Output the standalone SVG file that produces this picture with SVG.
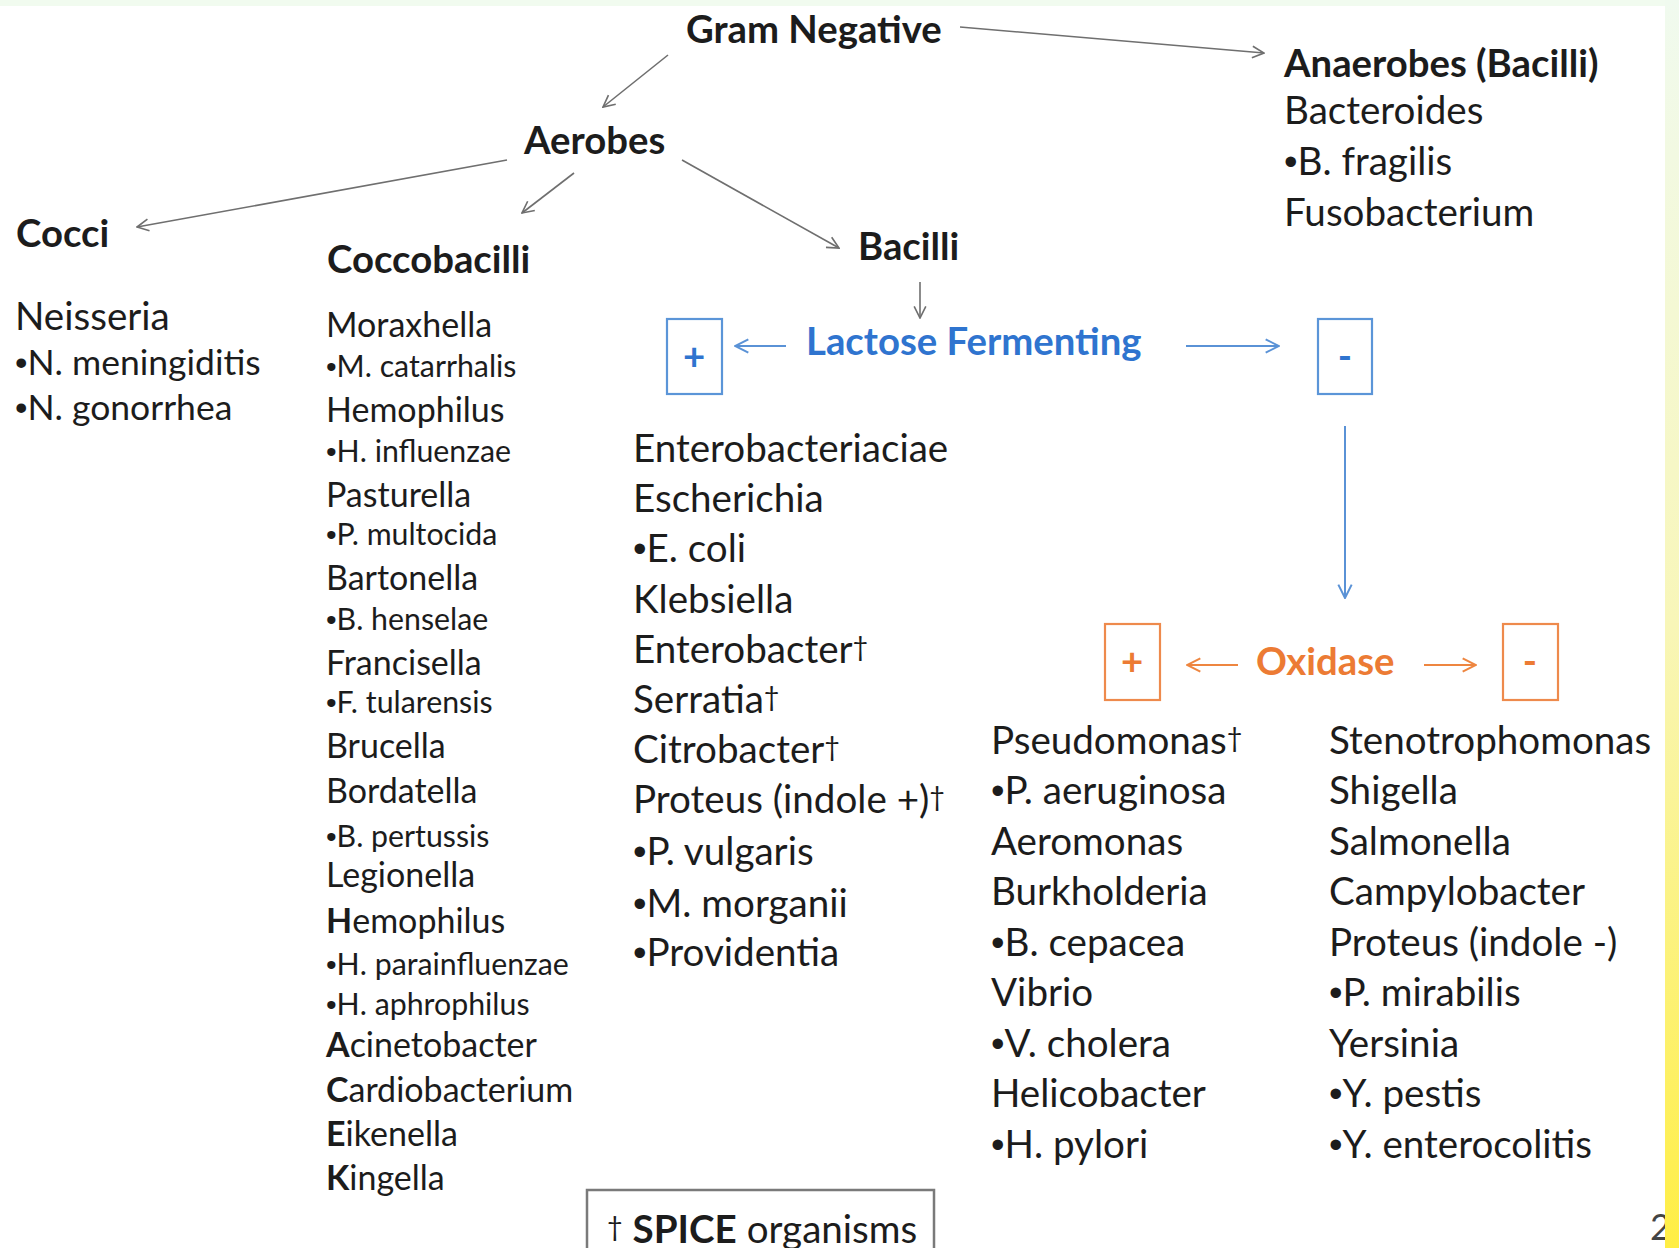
<svg xmlns="http://www.w3.org/2000/svg" width="1679" height="1248" viewBox="0 0 1679 1248">
<defs>
<style>
text{font-family:Lato,"Open Sans","Liberation Sans",sans-serif;fill:#1c1c1c}
.h{font-weight:bold;font-size:38.3px}
.b{font-size:38.6px}
.g{font-size:34px}
.s{font-size:30.3px}
.dg{font-size:27px;baseline-shift:7px}
.bu{font-family:"Liberation Sans",sans-serif}
.blue{fill:#2f74cf;font-weight:bold;font-size:38.3px}
.orange{fill:#ec7b34;font-weight:bold;font-size:38.3px}
.ka{stroke:#6f6f6f;stroke-width:1.6;fill:none}
.ba{stroke:#5a92d6;stroke-width:2;fill:none}
.oa{stroke:#ee8640;stroke-width:2;fill:none}
.bbox{stroke:#5b95d8;stroke-width:2.2;fill:none}
.obox{stroke:#ee8a4c;stroke-width:2.2;fill:none}
</style>
<marker id="mk" viewBox="0 0 12 12" refX="11" refY="6" markerWidth="14" markerHeight="14" markerUnits="userSpaceOnUse" orient="auto"><path d="M1,1 L11,6 L1,11" fill="none" stroke="#6f6f6f" stroke-width="1.4"/></marker>
<marker id="mb" viewBox="0 0 12 12" refX="11" refY="6" markerWidth="16" markerHeight="16" markerUnits="userSpaceOnUse" orient="auto"><path d="M1,1 L11,6 L1,11" fill="none" stroke="#5a92d6" stroke-width="1.5"/></marker>
<marker id="mo" viewBox="0 0 12 12" refX="11" refY="6" markerWidth="16" markerHeight="16" markerUnits="userSpaceOnUse" orient="auto"><path d="M1,1 L11,6 L1,11" fill="none" stroke="#ee8640" stroke-width="1.5"/></marker>
<linearGradient id="strip" x1="0" y1="0" x2="0" y2="1">
<stop offset="0" stop-color="#f0faef"/>
<stop offset="0.5" stop-color="#f8f6b8"/>
<stop offset="1" stop-color="#ffee44"/>
</linearGradient>
</defs>
<rect x="0" y="0" width="1679" height="1248" fill="#ffffff"/>
<rect x="0" y="0" width="1679" height="6" fill="#f1fbef"/>

<g id="connectors">
<line class="ka" x1="960" y1="27" x2="1264" y2="53" marker-end="url(#mk)"/>
<line class="ka" x1="668" y1="55" x2="603" y2="107" marker-end="url(#mk)"/>
<line class="ka" x1="507" y1="160" x2="137" y2="227" marker-end="url(#mk)"/>
<line class="ka" x1="574" y1="173" x2="522" y2="213" marker-end="url(#mk)"/>
<line class="ka" x1="682" y1="160" x2="839" y2="248" marker-end="url(#mk)"/>
<line class="ka" x1="920" y1="282" x2="920" y2="318" marker-end="url(#mk)"/>
<line class="ba" x1="786" y1="346" x2="735" y2="346" marker-end="url(#mb)"/>
<line class="ba" x1="1186" y1="346" x2="1279" y2="346" marker-end="url(#mb)"/>
<line class="ba" x1="1345" y1="426" x2="1345" y2="598" marker-end="url(#mb)"/>
<line class="oa" x1="1238" y1="665" x2="1187" y2="665" marker-end="url(#mo)"/>
<line class="oa" x1="1424" y1="665" x2="1476" y2="665" marker-end="url(#mo)"/>
</g>

<g id="gram-negative"><text class="h" x="686" y="43">Gram Negative</text></g>
<g id="aerobes"><text class="h" x="524" y="154">Aerobes</text></g>

<g id="anaerobes">
<text class="h" x="1284" y="77">Anaerobes (Bacilli)</text>
<text class="b" x="1284" y="124">Bacteroides</text>
<text class="b" x="1284" y="175"><tspan class="bu">•</tspan>B. fragilis</text>
<text class="b" x="1284" y="226">Fusobacterium</text>
</g>

<g id="cocci">
<text class="h" x="16" y="247">Cocci</text>
<text class="b" x="15" y="330">Neisseria</text>
<text class="b" x="15" y="375" style="font-size:35.5px"><tspan class="bu">•</tspan>N. meningiditis</text>
<text class="b" x="15" y="420" style="font-size:35.5px"><tspan class="bu">•</tspan>N. gonorrhea</text>
</g>

<g id="coccobacilli">
<text class="h" x="327" y="273">Coccobacilli</text>
<text class="g" x="326" y="337">Moraxhella</text>
<text class="s" x="326" y="377"><tspan class="bu">•</tspan>M. catarrhalis</text>
<text class="g" x="326" y="422">Hemophilus</text>
<text class="s" x="326" y="462"><tspan class="bu">•</tspan>H. influenzae</text>
<text class="g" x="326" y="507">Pasturella</text>
<text class="s" x="326" y="545"><tspan class="bu">•</tspan>P. multocida</text>
<text class="g" x="326" y="590">Bartonella</text>
<text class="s" x="326" y="630"><tspan class="bu">•</tspan>B. henselae</text>
<text class="g" x="326" y="675">Francisella</text>
<text class="s" x="326" y="713"><tspan class="bu">•</tspan>F. tularensis</text>
<text class="g" x="326" y="758">Brucella</text>
<text class="g" x="326" y="803">Bordatella</text>
<text class="s" x="326" y="847"><tspan class="bu">•</tspan>B. pertussis</text>
<text class="g" x="326" y="887">Legionella</text>
<text class="g" x="326" y="933"><tspan font-weight="bold">H</tspan>emophilus</text>
<text class="s" x="326" y="975"><tspan class="bu">•</tspan>H. parainfluenzae</text>
<text class="s" x="326" y="1015"><tspan class="bu">•</tspan>H. aphrophilus</text>
<text class="g" x="326" y="1057"><tspan font-weight="bold">A</tspan>cinetobacter</text>
<text class="g" x="326" y="1102"><tspan font-weight="bold">C</tspan>ardiobacterium</text>
<text class="g" x="326" y="1146"><tspan font-weight="bold">E</tspan>ikenella</text>
<text class="g" x="326" y="1190"><tspan font-weight="bold">K</tspan>ingella</text>
</g>

<g id="bacilli"><text class="h" x="858" y="260">Bacilli</text></g>

<g id="lactose-fermenting"><text class="blue" x="806" y="355">Lactose Fermenting</text></g>

<g id="lactose-plus">
<rect class="bbox" x="667" y="319" width="55" height="75"/>
<text class="blue" x="694" y="370" text-anchor="middle">+</text>
</g>
<g id="lactose-minus">
<rect class="bbox" x="1318" y="319" width="54" height="75"/>
<text class="blue" x="1345" y="370" text-anchor="middle">-</text>
</g>

<g id="lactose-positive-list">
<text class="b" x="633" y="462">Enterobacteriaciae</text>
<text class="b" x="633" y="512">Escherichia</text>
<text class="b" x="633" y="562"><tspan class="bu">•</tspan>E. coli</text>
<text class="b" x="633" y="613">Klebsiella</text>
<text class="b" x="633" y="663">Enterobacter<tspan class="dg">†</tspan></text>
<text class="b" x="633" y="713">Serratia<tspan class="dg">†</tspan></text>
<text class="b" x="633" y="763">Citrobacter<tspan class="dg">†</tspan></text>
<text class="b" x="633" y="813">Proteus (indole +)<tspan class="dg">†</tspan></text>
<text class="b" x="633" y="865"><tspan class="bu">•</tspan>P. vulgaris</text>
<text class="b" x="633" y="917"><tspan class="bu">•</tspan>M. morganii</text>
<text class="b" x="633" y="966"><tspan class="bu">•</tspan>Providentia</text>
</g>

<g id="oxidase"><text class="orange" x="1256" y="675">Oxidase</text></g>
<g id="oxidase-plus">
<rect class="obox" x="1105" y="624" width="55" height="76"/>
<text class="orange" x="1132" y="675" text-anchor="middle">+</text>
</g>
<g id="oxidase-minus">
<rect class="obox" x="1503" y="624" width="55" height="76"/>
<text class="orange" x="1530" y="675" text-anchor="middle">-</text>
</g>

<g id="oxidase-positive-list">
<text class="b" x="991" y="754">Pseudomonas<tspan class="dg">†</tspan></text>
<text class="b" x="991" y="804"><tspan class="bu">•</tspan>P. aeruginosa</text>
<text class="b" x="991" y="855">Aeromonas</text>
<text class="b" x="991" y="905">Burkholderia</text>
<text class="b" x="991" y="956"><tspan class="bu">•</tspan>B. cepacea</text>
<text class="b" x="991" y="1006">Vibrio</text>
<text class="b" x="991" y="1057"><tspan class="bu">•</tspan>V. cholera</text>
<text class="b" x="991" y="1107">Helicobacter</text>
<text class="b" x="991" y="1158"><tspan class="bu">•</tspan>H. pylori</text>
</g>

<g id="oxidase-negative-list">
<text class="b" x="1329" y="754">Stenotrophomonas</text>
<text class="b" x="1329" y="804">Shigella</text>
<text class="b" x="1329" y="855">Salmonella</text>
<text class="b" x="1329" y="905">Campylobacter</text>
<text class="b" x="1329" y="956">Proteus (indole -)</text>
<text class="b" x="1329" y="1006"><tspan class="bu">•</tspan>P. mirabilis</text>
<text class="b" x="1329" y="1057">Yersinia</text>
<text class="b" x="1329" y="1107"><tspan class="bu">•</tspan>Y. pestis</text>
<text class="b" x="1329" y="1158"><tspan class="bu">•</tspan>Y. enterocolitis</text>
</g>

<g id="spice-legend">
<rect x="587" y="1190" width="347" height="72" fill="none" stroke="#7a7a7a" stroke-width="2.5"/>
<text class="b" x="607" y="1243"><tspan class="dg">†</tspan> <tspan font-weight="bold">SPICE</tspan> organisms</text>
</g>

<text x="1650" y="1240" font-size="36" style="fill:#444">2</text>
<rect x="1665" y="0" width="14" height="1248" fill="url(#strip)"/>
</svg>
